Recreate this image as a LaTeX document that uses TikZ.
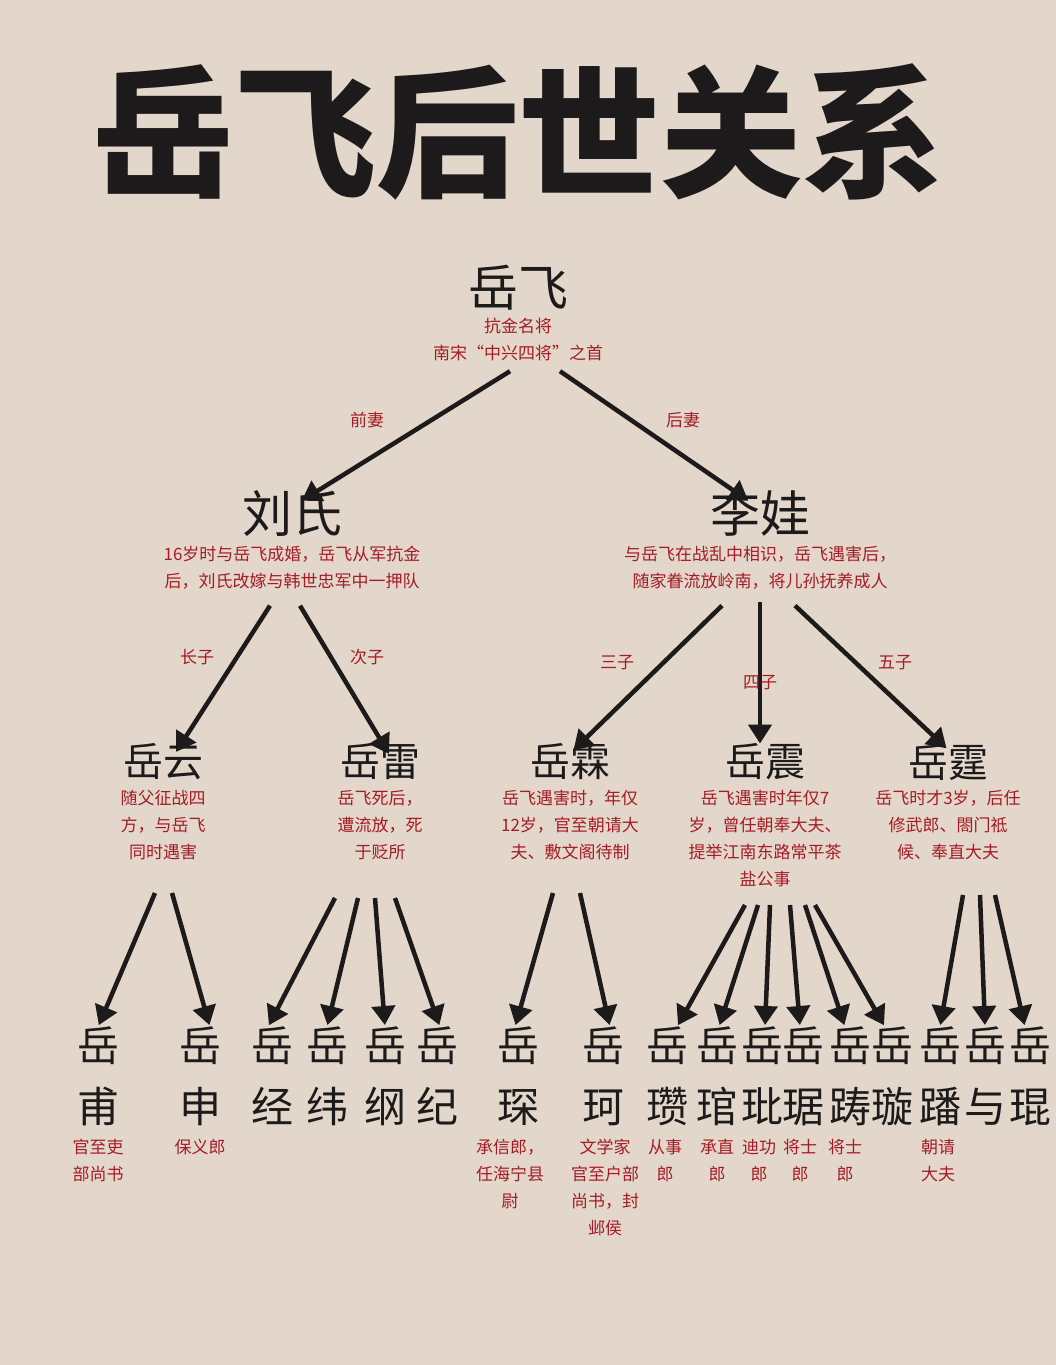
\documentclass[tikz,border=0pt]{standalone}
\usepackage{fontspec}
\setmainfont{Noto Sans CJK SC}
\usetikzlibrary{arrows.meta}
\definecolor{bg}{RGB}{226,215,202}
\definecolor{rd}{RGB}{165,28,38}
\definecolor{ink}{RGB}{28,26,26}
\tikzset{
 arr/.style={line width=4.5pt,draw=ink,-{Triangle[length=19pt,width=23pt]},shorten >=2pt},
 big/.style={font=\fontsize{50}{56}\selectfont,text=ink,inner sep=0pt},
 mid/.style={font=\fontsize{40}{46}\selectfont,text=ink,inner sep=0pt},
 leaf/.style={font=\fontsize{42}{61}\selectfont,text=ink,inner sep=0pt,align=center},
 note/.style={font=\fontsize{17}{27}\selectfont,text=rd,inner sep=0pt,align=center},
 lab/.style={font=\fontsize{17}{20}\selectfont,text=rd,inner sep=0pt},
}
\begin{document}
\begin{tikzpicture}[x=1pt,y=-1pt]
\fill[bg] (0,0) rectangle (1056,1365);
\useasboundingbox (0,0) rectangle (1056,1365);
\node[font=\fontsize{142}{144}\selectfont\bfseries,text=ink] (title) at (518,132) {岳飞后世关系};
% gen1
\node[big] (yf) at (518,288) {岳飞};
\node[note,anchor=north] (yfn) at (518,318) {抗金名将\\南宋“中兴四将”之首};
% gen2
\node[big] (ls) at (292,513) {刘氏};
\node[note,anchor=north] (lsn) at (292,546) {16岁时与岳飞成婚，岳飞从军抗金\\后，刘氏改嫁与韩世忠军中一押队};
\node[big] (lw) at (760,513) {李娃};
\node[note,anchor=north] (lwn) at (760,546) {与岳飞在战乱中相识，岳飞遇害后，\\随家眷流放岭南，将儿孙抚养成人};
\draw[arr] ([xshift=-8pt,yshift=-10pt]yfn.south) -- ([xshift=8pt,yshift=-12pt]ls.north);
\draw[arr] ([xshift=42pt,yshift=-10pt]yfn.south) -- ([xshift=-10pt,yshift=-12pt]lw.north);
\node[lab] (l1) at (367,420) {前妻};
\node[lab] (l2) at (683,420) {后妻};
% gen3
\node[mid] (g1) at (163,762) {岳云};
\node[mid] (g2) at (380,762) {岳雷};
\node[mid] (g3) at (570,762) {岳霖};
\node[mid] (g4) at (765,762) {岳震};
\node[mid] (g5) at (948,762) {岳霆};
\node[note,anchor=north] (n1) at (163,790) {随父征战四\\方，与岳飞\\同时遇害};
\node[note,anchor=north] (n2) at (380,790) {岳飞死后，\\遭流放，死\\于贬所};
\node[note,anchor=north] (n3) at (570,790) {岳飞遇害时，年仅\\12岁，官至朝请大\\夫、敷文阁待制};
\node[note,anchor=north] (n4) at (765,790) {岳飞遇害时年仅7\\岁，曾任朝奉大夫、\\提举江南东路常平茶\\盐公事};
\node[note,anchor=north] (n5) at (948,790) {岳飞时才3岁，后任\\修武郎、閤门祗\\候、奉直大夫};
\draw[arr] ([xshift=-22pt,yshift=-16pt]lsn.south) -- ([xshift=12pt,yshift=-10pt]g1.north);
\draw[arr] ([xshift=8pt,yshift=-16pt]lsn.south) -- ([xshift=10pt,yshift=-12pt]g2.north);
\draw[arr] ([xshift=-38pt,yshift=-16pt]lwn.south) -- ([xshift=2pt,yshift=-8pt]g3.north);
\draw[arr] ([yshift=-12pt]lwn.south) -- ([xshift=-5pt,yshift=-2pt]g4.north);
\draw[arr] ([xshift=35pt,yshift=-16pt]lwn.south) -- ([yshift=-6pt]g5.north);
\node[lab] (l3) at (197,657) {长子};
\node[lab] (l4) at (367,657) {次子};
\node[lab] (l5) at (617,663) {三子};
\node[lab] (l6) at (760,683) {四子};
\node[lab] (l7) at (895,663) {五子};
% gen4
\foreach \n/\x/\c in {a/98/甫,b/200/申,c/272/经,d/327/纬,e/385/纲,f/437/纪,g/518/琛,h/603/珂,i/667/瓒,j/717/琯,k/762/玭,l/803/琚,m/850/踌,n/892/璇,o/940/蹯,p/985/与,q/1030/琨}{
 \node[leaf,anchor=north] (s\n) at (\x,1027) {岳\\\c};
}
\node[note,anchor=north] (ta) at (98,1139) {官至吏\\部尚书};
\node[note,anchor=north] (tb) at (200,1139) {保义郎};
\node[note,anchor=north] (tg) at (510,1139) {承信郎，\\任海宁县\\尉};
\node[note,anchor=north] (th) at (605,1139) {文学家\\官至户部\\尚书，封\\邺侯};
\node[note,anchor=north] (ti) at (665,1139) {从事\\郎};
\node[note,anchor=north] (tj) at (717,1139) {承直\\郎};
\node[note,anchor=north] (tk) at (759,1139) {迪功\\郎};
\node[note,anchor=north] (tl) at (800,1139) {将士\\郎};
\node[note,anchor=north] (tm) at (845,1139) {将士\\郎};
\node[note,anchor=north] (to) at (938,1139) {朝请\\大夫};
% gen4 arrows
\coordinate (c1) at (155,893); \coordinate (c1b) at (172,893);
\draw[arr] (c1) -- (sa.north); \draw[arr] (c1b) -- ([xshift=10pt]sb.north);
\coordinate (c2a) at (335,898); \coordinate (c2b) at (358,898);
\coordinate (c2c) at (375,898); \coordinate (c2d) at (395,898);
\draw[arr] (c2a) -- ([xshift=-4pt]sc.north); \draw[arr] (c2b) -- (sd.north);
\draw[arr] (c2c) -- (se.north); \draw[arr] (c2d) -- ([xshift=3pt]sf.north);
\coordinate (c3a) at (553,893); \coordinate (c3b) at (580,893);
\draw[arr] (c3a) -- ([xshift=-3pt]sg.north); \draw[arr] (c3b) -- ([xshift=7pt]sh.north);
\coordinate (c4a) at (745,905); \coordinate (c4b) at (758,905); \coordinate (c4c) at (770,905);
\coordinate (c4d) at (790,905); \coordinate (c4e) at (805,905); \coordinate (c4f) at (815,905);
\draw[arr] (c4a) -- ([xshift=10pt]si.north); \draw[arr] (c4b) -- ([xshift=2pt]sj.north);
\draw[arr] (c4c) -- ([xshift=3pt]sk.north); \draw[arr] (c4d) -- ([xshift=-3pt]sl.north);
\draw[arr] (c4e) -- ([xshift=-5pt]sm.north); \draw[arr] (c4f) -- ([xshift=-7pt]sn.north);
\coordinate (c5a) at (963,895); \coordinate (c5b) at (980,895); \coordinate (c5c) at (995,895);
\draw[arr] (c5a) -- (so.north); \draw[arr] (c5b) -- (sp.north); \draw[arr] (c5c) -- ([xshift=-5pt]sq.north);
\end{tikzpicture}
\end{document}
